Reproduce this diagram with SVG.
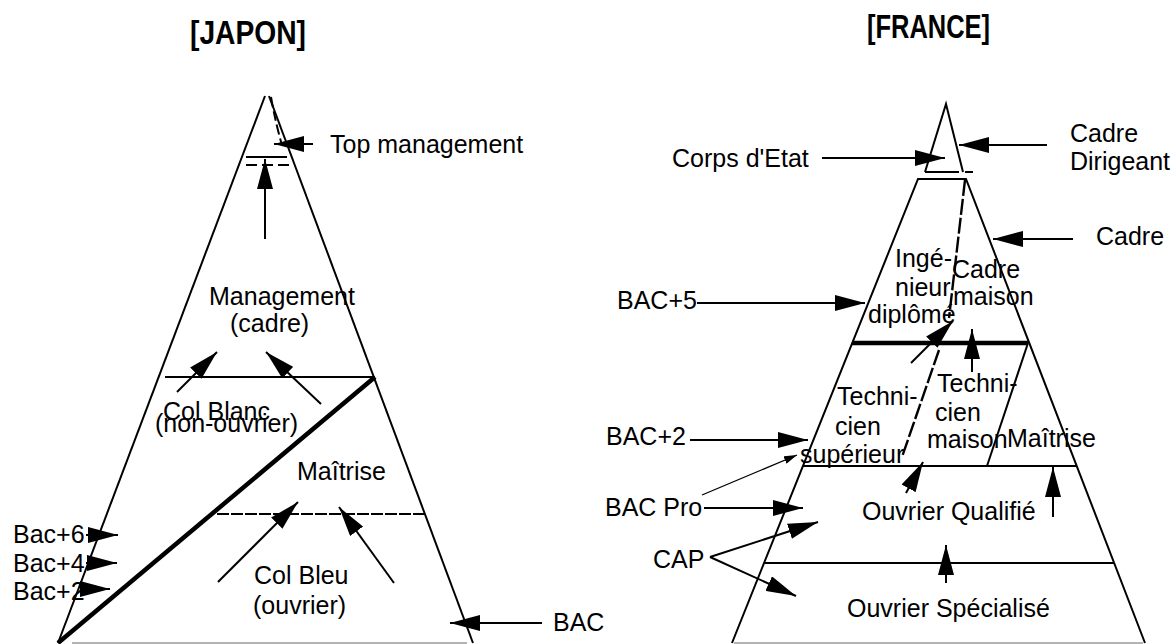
<svg xmlns="http://www.w3.org/2000/svg" width="1174" height="644" viewBox="0 0 1174 644">
<defs>
<marker id="ah" markerUnits="userSpaceOnUse" markerWidth="30" markerHeight="16" refX="30" refY="8" orient="auto"><path d="M0,0 L30,8 L0,16 z" fill="#000"/></marker>
<marker id="ahs" markerUnits="userSpaceOnUse" markerWidth="13" markerHeight="8" refX="13" refY="4" orient="auto"><path d="M0,0 L13,4 L0,8 z" fill="#000"/></marker>
<style>
text{font-family:"Liberation Sans",Arial,sans-serif;font-size:25px;fill:#000}
.t{font-weight:bold;font-size:34px}
.e{stroke:#000;stroke-width:2;fill:none}
.k{stroke:#000;stroke-width:4.5;fill:none}
.a{stroke:#000;stroke-width:2;fill:none;marker-end:url(#ah)}
.as{stroke:#000;stroke-width:1.3;fill:none;marker-end:url(#ahs)}
.d{stroke-dasharray:10 4}
.dl{stroke-width:2.4;stroke-dasharray:16 3}
.g{stroke:#b4b4b4;stroke-width:2;fill:none}
</style>
</defs>
<rect width="1174" height="644" fill="#fff"/>

<g id="japon">
<text class="t" x="190" y="44" textLength="116" lengthAdjust="spacingAndGlyphs">[JAPON]</text>
<g id="jp-pyramid">
<line class="e" x1="265" y1="96" x2="58" y2="643"/>
<line class="e" x1="269" y1="96" x2="473" y2="643"/>
<path class="e d" d="M271,97 Q276,125 282,145"/>
<line class="g" x1="72" y1="643" x2="467" y2="643"/>
</g>
<g id="jp-top">
<line class="e" x1="246" y1="157" x2="287" y2="157"/>
<line class="e" x1="246" y1="165" x2="293" y2="165" stroke-dasharray="11 5"/>
<text x="330" y="153">Top management</text>
</g>
<g id="jp-management">
<text x="209" y="305">Management</text>
<text x="230" y="332">(cadre)</text>
<line class="e" x1="165" y1="377" x2="375" y2="377"/>
</g>
<g id="jp-colblanc">
<text x="163" y="420">Col Blanc</text>
<text x="155" y="432">(non-ouvrier)</text>
<line class="k" x1="375" y1="377" x2="58" y2="643"/>
</g>
<g id="jp-maitrise">
<text x="297" y="480">Maîtrise</text>
<line class="e" x1="217" y1="514" x2="426" y2="514" stroke-dasharray="12 2"/>
</g>
<g id="jp-colbleu">
<text x="254" y="584">Col Bleu</text>
<text x="253" y="614">(ouvrier)</text>
</g>
<g id="jp-bac">
<text x="13" y="543">Bac+6</text>
<text x="13" y="572">Bac+4</text>
<text x="13" y="600">Bac+2</text>
<text x="553" y="631">BAC</text>
</g>
</g>

<g id="france">
<text class="t" x="867" y="38" textLength="123" lengthAdjust="spacingAndGlyphs">[FRANCE]</text>
<g id="fr-corps">
<path class="e" d="M925,172 L946,104 L963,172"/>
<line class="e" x1="925" y1="172" x2="959" y2="172"/>
<line class="e" x1="965" y1="172" x2="973" y2="172"/>
<text x="672" y="167">Corps d'Etat</text>
<text x="1070" y="142">Cadre</text>
<text x="1070" y="170">Dirigeant</text>
</g>
<g id="fr-pyramid">
<path class="e" d="M732,643 L918,179 L966,179 L1145,643"/>
<line class="g" x1="734" y1="643" x2="1143" y2="643"/>
<text x="1096" y="245">Cadre</text>
</g>
<g id="fr-cadre">
<path class="e dl" d="M965,180 L949,318"/>
<text x="895" y="267">Ingé-</text>
<text x="895" y="296">nieur</text>
<text x="868" y="323">diplômé</text>
<text x="952" y="278">Cadre</text>
<text x="953" y="305">maison</text>
<line class="k" x1="852" y1="343" x2="1028" y2="343"/>
</g>
<g id="fr-technicien">
<path class="e dl" d="M939,350 L902,457"/>
<line class="e" x1="1028" y1="343" x2="987" y2="466"/>
<text x="837" y="405">Techni-</text>
<text x="835" y="435">cien</text>
<text x="800" y="463">supérieur</text>
<text x="937" y="392">Techni-</text>
<text x="935" y="421">cien</text>
<text x="927" y="448">maison</text>
<text x="1007" y="447">Maîtrise</text>
<line class="e" x1="803" y1="466" x2="1077" y2="466"/>
</g>
<g id="fr-ouvrier">
<text x="862" y="520">Ouvrier Qualifié</text>
<line class="e" x1="764" y1="563" x2="1114" y2="563"/>
<text x="847" y="617">Ouvrier Spécialisé</text>
</g>
<g id="fr-bac">
<text x="617" y="309">BAC+5</text>
<text x="606" y="445">BAC+2</text>
<text x="605" y="516">BAC Pro</text>
<text x="653" y="568">CAP</text>
</g>
</g>

<g id="connectors">
<line class="a" x1="313" y1="144" x2="274" y2="144"/>
<line class="a" x1="265" y1="239" x2="265" y2="159"/>
<line class="a" x1="177" y1="392" x2="217" y2="352"/>
<line class="a" x1="321" y1="404" x2="266" y2="352"/>
<line class="a" x1="218" y1="582" x2="298" y2="502"/>
<line class="a" x1="394" y1="583" x2="339" y2="507"/>
<line class="a" x1="86" y1="535" x2="118" y2="535"/>
<line class="a" x1="86" y1="563" x2="117" y2="563"/>
<line class="a" x1="80" y1="589" x2="110" y2="589"/>
<line class="a" x1="542" y1="623" x2="450" y2="623"/>

<line class="a" x1="822" y1="158" x2="945" y2="158"/>
<line class="a" x1="1047" y1="145" x2="959" y2="145"/>
<line class="a" x1="1073" y1="239" x2="993" y2="239"/>
<line class="a" x1="697" y1="303" x2="865" y2="303"/>
<line class="a" x1="690" y1="440" x2="808" y2="440"/>
<line class="a" x1="704" y1="508" x2="803" y2="508"/>
<line class="as" x1="702" y1="495" x2="797" y2="455"/>
<line class="a" x1="710" y1="557" x2="818" y2="522"/>
<line class="a" x1="710" y1="557" x2="796" y2="596"/>
<line class="a" x1="911" y1="363" x2="953" y2="321"/>
<line class="a" x1="972" y1="372" x2="972" y2="329"/>
<line class="a" x1="906" y1="493" x2="923" y2="462"/>
<line class="a" x1="1053" y1="517" x2="1053" y2="467"/>
<line class="a" x1="946" y1="583" x2="946" y2="545"/>
</g>
</svg>
